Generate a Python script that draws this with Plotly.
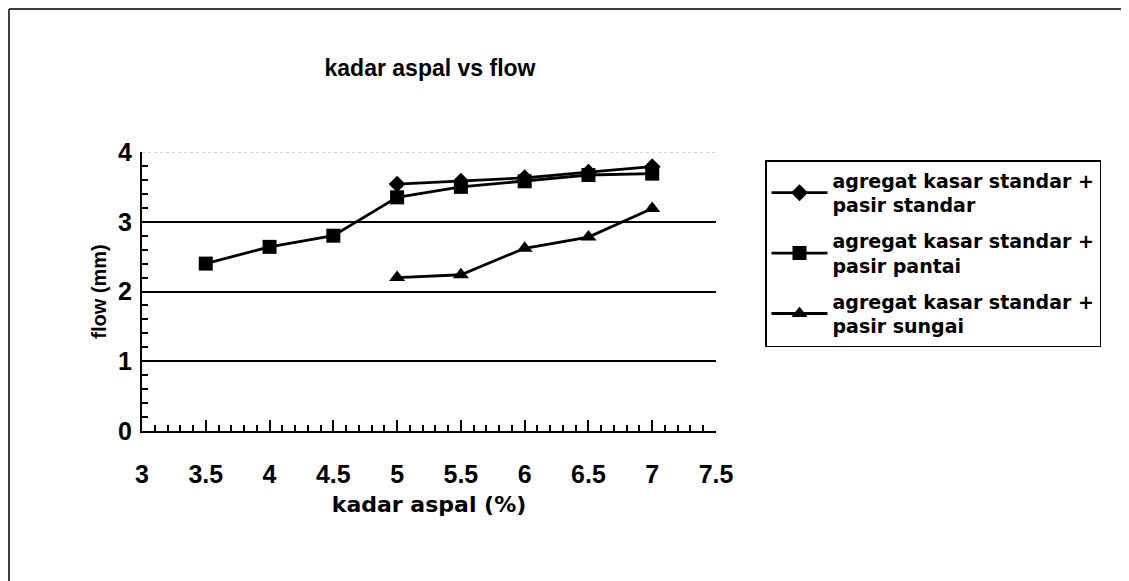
import plotly.graph_objects as go

# kadar aspal (%) vs flow (mm)
kadar_standar = [5, 5.5, 6, 6.5, 7]
flow_standar = [3.54, 3.58, 3.63, 3.71, 3.79]

kadar_pantai = [3.5, 4, 4.5, 5, 5.5, 6, 6.5, 7]
flow_pantai = [2.40, 2.64, 2.80, 3.35, 3.50, 3.58, 3.67, 3.69]

kadar_sungai = [5, 5.5, 6, 6.5, 7]
flow_sungai = [2.20, 2.24, 2.62, 2.78, 3.19]

nama_seri = [
    "agregat kasar standar +<br>pasir standar",
    "agregat kasar standar +<br>pasir pantai",
    "agregat kasar standar +<br>pasir sungai",
]

FONT = "Liberation Sans, Arial, sans-serif"
FONT_LEBAR = "DejaVu Sans, Verdana, sans-serif"

fig = go.Figure()
seri = [
    (kadar_standar, flow_standar, "diamond", 13),
    (kadar_pantai, flow_pantai, "square", 14),
    (kadar_sungai, flow_sungai, "triangle-up", 14),
]
for i, ((x, y, simbol, ukuran), nama) in enumerate(zip(seri, nama_seri)):
    fig.add_trace(go.Scatter(
        x=x, y=y, name=nama, mode="lines+markers", legendgroup=str(i),
        line=dict(color="black", width=2.8),
        marker=dict(symbol=simbol, size=ukuran, color="black"),
    ))

# halaman html punya margin body 8px, jadi ukuran figur dikurangi
W, H = 1121, 573
L, R, T, B = 134, 708, 144, 423

fig.update_layout(
    width=W, height=H,
    paper_bgcolor="white", plot_bgcolor="white",
    margin=dict(l=L, r=W - R, t=T, b=H - B),
    font=dict(family=FONT, color="black", size=18, weight="bold"),
    title=dict(text="kadar aspal vs flow", x=422 / W, xanchor="center",
               y=1 - 60 / H, yanchor="middle",
               font=dict(size=23, weight="bold")),
    showlegend=True,
    legend=dict(
        x=(757 - L) / (R - L), y=(B - 152) / (B - T),
        xanchor="left", yanchor="top",
        bordercolor="black", borderwidth=1.5, bgcolor="white",
        font=dict(family=FONT_LEBAR, size=19, weight="bold"),
        tracegroupgap=8, itemwidth=56,
    ),
    xaxis=dict(
        range=[3, 7.5], dtick=0.5, tick0=3,
        ticks="inside", ticklen=11, tickwidth=1.5, tickcolor="black",
        minor=dict(dtick=0.1, ticks="inside", ticklen=6, tickwidth=1.5, tickcolor="black"),
        showline=True, linecolor="black", linewidth=2,
        showgrid=False, zeroline=False,
        tickfont=dict(size=25, weight="bold"),
        ticklabelstandoff=20,
        title=dict(text="kadar aspal (%)", font=dict(family=FONT_LEBAR, size=22, weight="bold"), standoff=10),
    ),
    yaxis=dict(
        range=[0, 4], dtick=1,
        ticks="inside", ticklen=10, tickwidth=1.5, tickcolor="black",
        minor=dict(dtick=0.2, ticks="inside", ticklen=6, tickwidth=1.5, tickcolor="black"),
        showline=True, linecolor="black", linewidth=2,
        showgrid=True, gridcolor="black", gridwidth=2, zeroline=False,
        tickfont=dict(size=25, weight="bold"),
        ticklabelstandoff=3,
        title=dict(text="flow (mm)", font=dict(size=20, weight="bold"), standoff=6),
    ),
)

# garis putus-putus tipis di batas atas area plot
fig.add_shape(type="line", xref="paper", yref="y", x0=0, x1=1, y0=4, y1=4,
              line=dict(color="#aaaaaa", width=1, dash="dot"))

# bingkai luar grafik
fig.add_shape(type="line", xref="paper", yref="paper",
              x0=(1 - L) / (R - L), x1=(W + 10 - L) / (R - L),
              y0=(B - 1) / (B - T), y1=(B - 1) / (B - T),
              line=dict(color="black", width=1.5))
fig.add_shape(type="line", xref="paper", yref="paper",
              x0=(1 - L) / (R - L), x1=(1 - L) / (R - L),
              y0=(B - 1) / (B - T), y1=(B - H - 10) / (B - T),
              line=dict(color="black", width=1.5))

fig.write_html("out.html")
